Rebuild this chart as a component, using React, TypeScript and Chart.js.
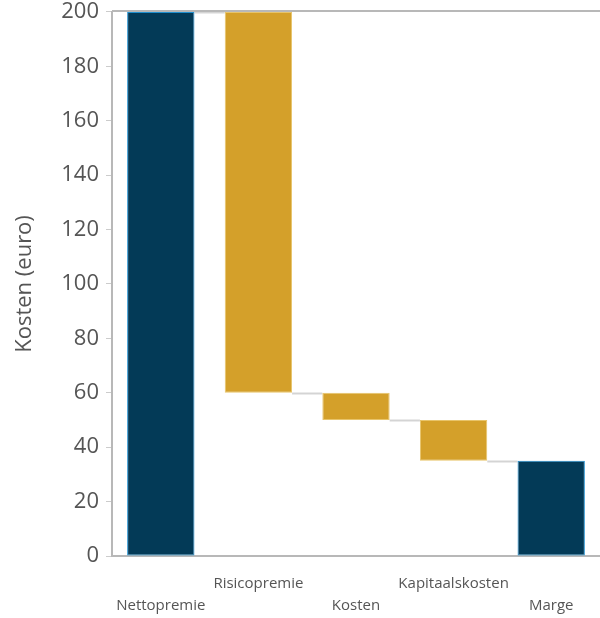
import React, { useEffect, useRef } from "react";
import { Chart, registerables } from "chart.js";

Chart.register(...registerables);

const categories = ["Nettopremie", "Risicopremie", "Kosten", "Kapitaalskosten", "Marge"];
const barStarts = [0, 60, 50, 35, 0];
const barEnds = [200, 200, 60, 50, 35];
const isTotal = [true, false, false, false, true];
const yTicks = [0, 20, 40, 60, 80, 100, 120, 140, 160, 180, 200];

const NAVY = "#033a57";
const NAVY_EDGE = "#1f8fd0";
const GOLD = "#d4a02a";
const GOLD_EDGE = "#e8c46a";
const FONT = "'Open Sans', 'Noto Sans', sans-serif";

// Grey connector lines joining each bar's lower end to the next bar,
// plus the top frame line of the plot area.
const connectorPlugin = {
  id: "waterfallConnectors",
  beforeDatasetsDraw(chart: any) {
    const { ctx, chartArea, scales } = chart;
    const meta = chart.getDatasetMeta(0);
    ctx.save();
    ctx.strokeStyle = "#d4d4d4";
    ctx.lineWidth = 2;
    for (let i = 0; i < categories.length - 1; i++) {
      const level = isTotal[i] ? barEnds[i] : barStarts[i];
      const y = Math.round(scales.y.getPixelForValue(level)) + 0.5;
      const a = meta.data[i];
      const b = meta.data[i + 1];
      ctx.beginPath();
      ctx.moveTo(a.x + a.width / 2, y);
      ctx.lineTo(b.x - b.width / 2, y);
      ctx.stroke();
    }
    ctx.strokeStyle = "#b8b8b8";
    ctx.lineWidth = 2;
    ctx.beginPath();
    ctx.moveTo(chartArea.left, chartArea.top - 1);
    ctx.lineTo(chartArea.right + 4, chartArea.top - 1);
    ctx.stroke();
    ctx.restore();
  },
};

export default function App() {
  const canvasRef = useRef<HTMLCanvasElement | null>(null);

  useEffect(() => {
    if (!canvasRef.current) return;
    const labels = categories.map((c, i) => (i % 2 === 1 ? [c, ""] : ["", c]));
    const chart = new Chart(canvasRef.current, {
      type: "bar",
      data: {
        labels,
        datasets: [
          {
            data: barStarts.map((s, i) => [s, barEnds[i]]) as any,
            backgroundColor: isTotal.map((t) => (t ? NAVY : GOLD)),
            borderColor: isTotal.map((t) => (t ? NAVY_EDGE : GOLD_EDGE)),
            borderWidth: 1,
            borderSkipped: false,
            barPercentage: 0.69,
            categoryPercentage: 1,
          },
        ],
      },
      options: {
        animation: false,
        responsive: true,
        maintainAspectRatio: false,
        layout: { padding: { top: 0, right: -3, left: 0, bottom: 0 } },
        plugins: {
          legend: { display: false },
          tooltip: { enabled: false },
        },
        scales: {
          x: {
            offset: true,
            grid: { display: false },
            border: { color: "#b8b8b8", width: 2 },
            ticks: {
              color: "#555",
              font: { family: FONT, size: 15, lineHeight: 1.45 },
              padding: 9,
              maxRotation: 0,
              autoSkip: false,
            },
            afterFit(scale: any) {
              scale.height = 62;
            },
          },
          y: {
            min: 0,
            max: 200,
            afterBuildTicks(scale: any) {
              scale.ticks = yTicks.map((v) => ({ value: v }));
            },
            grid: {
              drawOnChartArea: false,
              drawTicks: true,
              tickLength: 6,
              color: "#cccccc",
            },
            border: { color: "#b8b8b8", width: 2 },
            ticks: {
              color: "#555",
              font: { family: FONT, size: 22, lineHeight: 0.45 },
              padding: 7,
            },
            title: {
              display: true,
              text: "Kosten (euro)",
              color: "#555",
              font: { family: FONT, size: 22 },
              padding: { top: 12, bottom: 0 },
            },
            afterFit(scale: any) {
              scale.width = 112;
            },
          },
        },
      },
      plugins: [connectorPlugin],
    });
    return () => chart.destroy();
  }, []);

  return (
    <div style={{ position: "fixed", left: 0, top: 0, width: 600, height: 618, background: "#fff" }}>
      <canvas ref={canvasRef} />
    </div>
  );
}
